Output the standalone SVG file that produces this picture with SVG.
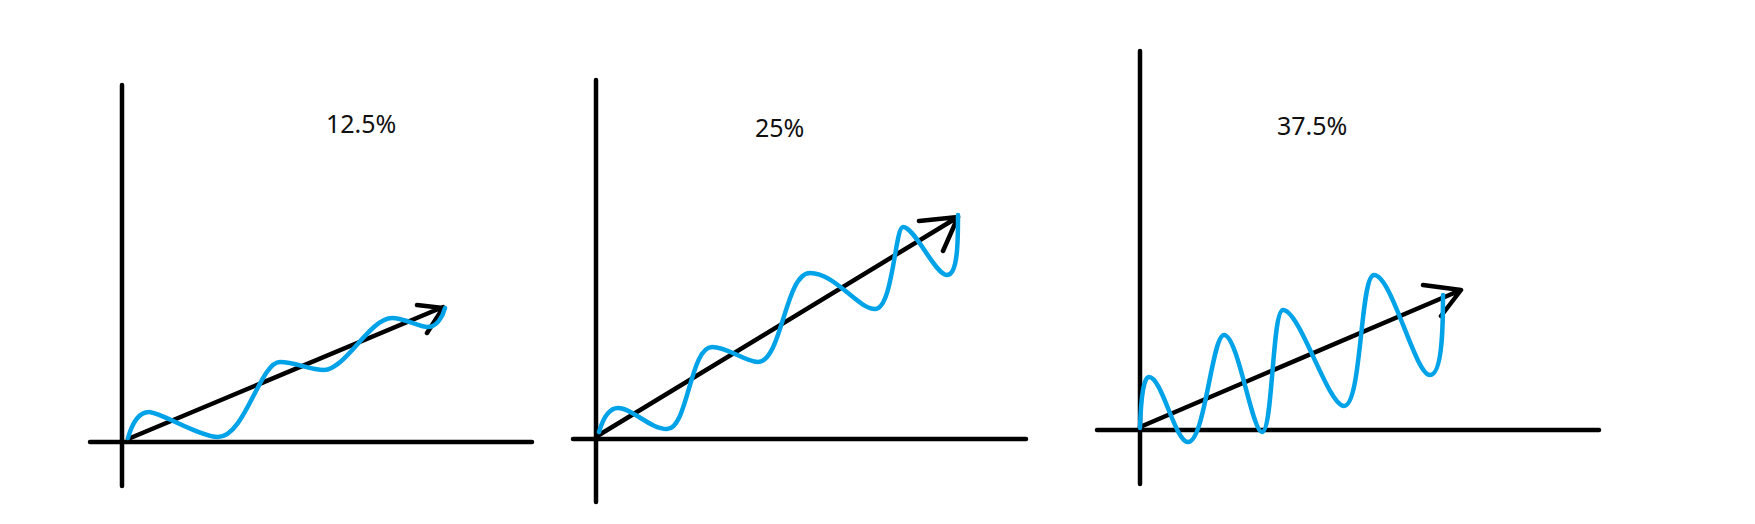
<svg xmlns="http://www.w3.org/2000/svg" width="1755" height="524" viewBox="0 0 1755 524">
<style>
.ax{stroke:#000;stroke-width:4.5;stroke-linecap:round;fill:none}
.ar{stroke:#000;stroke-width:4.5;stroke-linecap:round;stroke-linejoin:round;fill:none}
.wv{stroke:#00A2E8;stroke-width:4.5;stroke-linecap:round;stroke-linejoin:round;fill:none}
.lb{font-family:"Noto Sans","Open Sans",sans-serif;font-size:25px;fill:#111}
</style>
<rect width="1755" height="524" fill="#fff"/>
<g id="panel1">
<line class="ax" x1="122" y1="85" x2="122" y2="486"/>
<line class="ax" x1="90" y1="442" x2="532" y2="442"/>
<text class="lb" x="326" y="133">12.5%</text>
<g id="arrow1"><path class="ar" d="M128,439 L443,307 M417,305 L443,308 L427,333"/></g>
<path class="wv" d="M128,438 C132,424 138,412 149,412 C160,412 200,437 218,437 C245,437 260,362 280,362 C295,362 310,370 324,370 C345,370 370,318 392,318 C405,318 418,327 428,327 C437,327 443,316 445,308"/>
</g>
<g id="panel2">
<line class="ax" x1="596" y1="80" x2="596" y2="502"/>
<line class="ax" x1="573" y1="439" x2="1026" y2="439"/>
<text class="lb" x="755" y="137">25%</text>
<g id="arrow2"><path class="ar" d="M599,435 L958,217 M919,221 L958,217 L943,251"/></g>
<path class="wv" d="M599,432 C604,415 610,408 618,408 C632,408 650,429 667,429 C688,429 690,347 712,347 C728,347 745,362 758,362 C782,362 785,273 810,273 C835,273 858,309 875,309 C893,309 895,227 903,227 C915,227 935,275 947,275 C958,275 958,240 958,215"/>
</g>
<g id="panel3">
<line class="ax" x1="1140" y1="51" x2="1140" y2="484"/>
<line class="ax" x1="1097" y1="430" x2="1599" y2="430"/>
<text class="lb" x="1277" y="135">37.5%</text>
<g id="arrow3"><path class="ar" d="M1140,427 L1461,290 M1423,285 L1461,290 L1441,316"/></g>
<path class="wv" d="M1140,428 C1141,395 1144,377 1149,377 C1162,377 1175,442 1188,442 C1205,442 1212,335 1224,335 C1238,335 1252,432 1262,432 C1273,432 1272,310 1283,310 C1300,310 1328,406 1344,406 C1362,406 1360,275 1374,275 C1392,275 1415,375 1430,375 C1443,375 1443,320 1443,295"/>
</g>
</svg>
